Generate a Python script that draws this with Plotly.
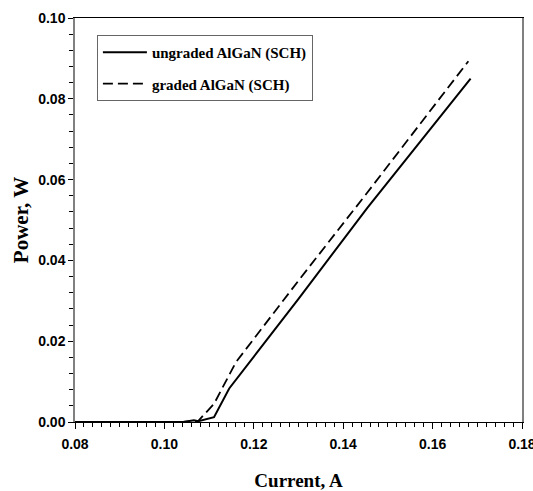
import plotly.graph_objects as go

# Light output vs. drive current for two SCH designs
current_ungraded = [0.080, 0.090, 0.1042, 0.1066, 0.1076, 0.1111, 0.1145, 0.1300, 0.1454, 0.1685]
power_ungraded = [0.0, 0.0, 0.0, 0.0004, 0.0002, 0.0012, 0.0083, 0.0305, 0.0530, 0.0850]

current_graded = [0.080, 0.090, 0.1042, 0.1076, 0.1111, 0.1160, 0.1300, 0.1454, 0.1680]
power_graded = [0.0, 0.0, 0.0, 0.0003, 0.0045, 0.0148, 0.0350, 0.0568, 0.0893]

series_names = ["ungraded AlGaN (SCH)", "graded AlGaN (SCH)"]

x_ticks = [0.08, 0.10, 0.12, 0.14, 0.16, 0.18]
y_ticks = [0.00, 0.02, 0.04, 0.06, 0.08, 0.10]

SERIF = "Liberation Serif"
SANS = "Liberation Sans"

fig = go.Figure()
fig.add_trace(go.Scatter(
    x=current_ungraded, y=power_ungraded, mode="lines", name=series_names[0],
    legendgroup="a", line=dict(color="black", width=2),
))
fig.add_trace(go.Scatter(
    x=current_graded, y=power_graded, mode="lines", name=series_names[1],
    legendgroup="b", line=dict(color="black", width=1.8, dash="10px,5px"),
))

fig.update_layout(
    width=533, height=491,
    margin=dict(l=75, r=10.5, t=18, b=69, autoexpand=False),
    paper_bgcolor="white", plot_bgcolor="white",
    showlegend=True,
    legend=dict(
        x=0.049, y=0.958, xanchor="left", yanchor="top",
        bordercolor="#666666", borderwidth=1, bgcolor="white",
        font=dict(family=SERIF, size=15, color="black", weight="bold"),
        itemwidth=44, tracegroupgap=9,
    ),
    xaxis=dict(
        range=[0.08, 0.18], tickvals=x_ticks, tickformat=".2f",
        ticklabeloverflow="allow", ticklabelstandoff=3, automargin=False,
        showgrid=False, zeroline=False,
        showline=True, linecolor="black", linewidth=1, mirror=True,
        ticks="outside", ticklen=6, tickwidth=1, tickcolor="black",
        tickfont=dict(family=SANS, size=14, color="black", weight="bold"),
        minor=dict(dtick=0.002, ticks="outside", ticklen=4, tickcolor="black", tickwidth=1),
        title=dict(text="Current, A", standoff=26,
                   font=dict(family=SERIF, size=19, color="black", weight="bold")),
    ),
    yaxis=dict(
        range=[0, 0.10], tickvals=y_ticks, tickformat=".2f", automargin=False,
        showgrid=False, zeroline=False,
        showline=True, linecolor="#808080", linewidth=1.5, mirror=True,
        ticks="outside", ticklen=5, tickwidth=1, tickcolor="black",
        tickfont=dict(family=SANS, size=14, color="black", weight="bold"),
        minor=dict(dtick=0.004, ticks="outside", ticklen=4, tickcolor="black", tickwidth=1),
        title=dict(text="Power, W", standoff=4,
                   font=dict(family=SERIF, size=21, color="black", weight="bold")),
    ),
)

fig.write_html("out.html")
